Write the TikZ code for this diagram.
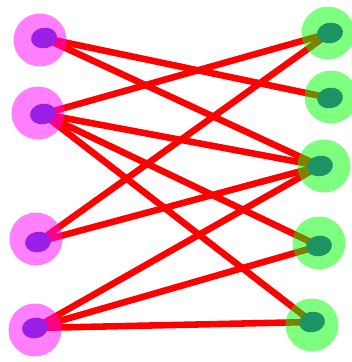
\documentclass[tikz,border=0pt]{standalone}
\usepackage{xcolor}
\usepackage{tikz}
\usetikzlibrary{shapes.geometric}

\definecolor{halopink}{RGB}{255,0,255}
\definecolor{halogreen}{RGB}{0,255,0}
\definecolor{edgered}{RGB}{255,0,0}
\definecolor{blobpurple}{RGB}{155,30,230}
\definecolor{blobgreen}{RGB}{28,148,100}

\pgfdeclarelayer{edges}
\pgfdeclarelayer{halos}
\pgfsetlayers{edges,halos,main}

\begin{document}
\begin{tikzpicture}[
  x=0.03cm, y=-0.03cm,
  halo/.style={circle, minimum size=1.59cm, inner sep=0pt, fill opacity=0.5},
  lhalo/.style={halo, fill=halopink},
  rhalo/.style={halo, fill=halogreen},
  blob/.style={ellipse, minimum width=0.78cm, minimum height=0.62cm, inner sep=0pt, rotate=10},
  lblob/.style={blob, fill=blobpurple},
  rblob/.style={blob, fill=blobgreen},
  edge/.style={edgered, line width=5.6pt}
]
\useasboundingbox (0,0) rectangle (351,362);

% left vertices
\node[lblob] (l1) at (44,38) {};
\node[lblob] (l2) at (43,114) {};
\node[lblob] (l3) at (38,242) {};
\node[lblob] (l4) at (35,328) {};

% right vertices
\node[rblob] (r1) at (330,33) {};
\node[rblob] (r2) at (330,98) {};
\node[rblob] (r3) at (320,166) {};
\node[rblob] (r4) at (319,246) {};
\node[rblob] (r5) at (312,322) {};

\begin{pgfonlayer}{halos}
\node[lhalo] (hl1) at (40,40) {};
\node[lhalo] (hl2) at (38,113) {};
\node[lhalo] (hl3) at (36,239) {};
\node[lhalo] (hl4) at (35,330) {};
\node[rhalo] (hr1) at (328,33) {};
\node[rhalo] (hr2) at (331,97) {};
\node[rhalo] (hr3) at (324,166) {};
\node[rhalo] (hr4) at (319,243) {};
\node[rhalo] (hr5) at (312,325) {};
\end{pgfonlayer}

\begin{pgfonlayer}{edges}
\foreach \a/\b in {l1/r2, l1/r3, l2/r1, l2/r3, l2/r4, l2/r5,
                   l3/r1, l3/r3, l4/r3, l4/r4, l4/r5}
  \draw[edge] (\a.center) -- (\b.center);
\end{pgfonlayer}

\end{tikzpicture}
\end{document}
